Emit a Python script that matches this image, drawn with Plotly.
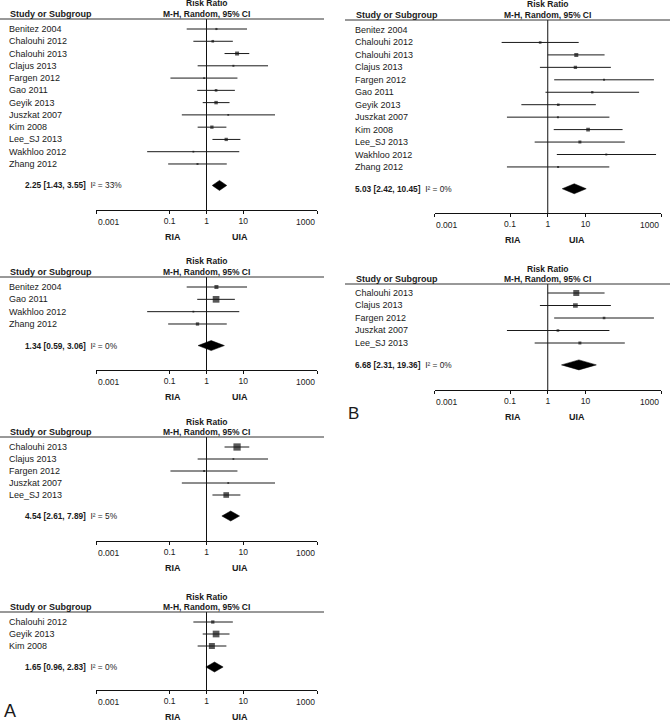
import numpy as np
import plotly.graph_objects as go

# ---------------- DATA ----------------
# Panel A studies (risk ratio, 95% CI lower, upper), UIA vs RIA
studies_A = ["Benitez 2004", "Chalouhi 2012", "Chalouhi 2013", "Clajus 2013", "Fargen 2012",
             "Gao 2011", "Geyik 2013", "Juszkat 2007", "Kim 2008", "Lee_SJ 2013",
             "Wakhloo 2012", "Zhang 2012"]
rr_A = [1.86, 1.48, 6.76, 5.37, 0.86, 1.82, 1.82, 3.89, 1.40, 3.43, 0.44, 0.57]
lo_A = [0.29, 0.44, 3.09, 0.575, 0.105, 0.56, 0.79, 0.214, 0.575, 1.45, 0.0245, 0.091]
hi_A = [12.6, 5.19, 14.5, 46.8, 6.92, 5.89, 4.22, 72.4, 3.47, 8.32, 7.76, 3.55]

# Panel B studies (Benitez 2004 not estimable)
studies_B = ["Benitez 2004", "Chalouhi 2012", "Chalouhi 2013", "Clajus 2013", "Fargen 2012",
             "Gao 2011", "Geyik 2013", "Juszkat 2007", "Kim 2008", "Lee_SJ 2013",
             "Wakhloo 2012", "Zhang 2012"]
rr_B = [None, 0.63, 5.7, 5.4, 31.0, 15.1, 1.9, 1.86, 11.7, 7.1, 35.5, 1.88]
lo_B = [None, 0.060, 1.0, 0.62, 1.48, 0.87, 0.20, 0.083, 1.44, 0.45, 1.74, 0.083]
hi_B = [None, 6.6, 32.0, 47.0, 650.0, 263.0, 18.8, 43.0, 96.0, 110.0, 740.0, 42.7]

# Subgroups: member studies, approximate weights (%), pooled RR [est, lo, hi], I²
a1_studies = studies_A
a1_weights = [4.5, 7, 16, 4, 3, 7, 12, 3, 11, 11, 3, 4]
a1_pooled = [2.25, 1.43, 3.55]
a1_i2 = "33%"

a2_studies = ["Benitez 2004", "Gao 2011", "Wakhloo 2012", "Zhang 2012"]
a2_weights = [16, 45, 3, 11]
a2_pooled = [1.34, 0.59, 3.06]
a2_i2 = "0%"

a3_studies = ["Chalouhi 2013", "Clajus 2013", "Fargen 2012", "Juszkat 2007", "Lee_SJ 2013"]
a3_weights = [53, 3, 3, 3, 32]
a3_pooled = [4.54, 2.61, 7.89]
a3_i2 = "5%"

a4_studies = ["Chalouhi 2012", "Geyik 2013", "Kim 2008"]
a4_weights = [11, 45, 36]
a4_pooled = [1.65, 0.96, 2.83]
a4_i2 = "0%"

b1_studies = studies_B
b1_weights = [0, 7, 16, 11, 4, 5.5, 7, 4, 13.5, 9, 4, 4]
b1_pooled = [5.03, 2.42, 10.45]
b1_i2 = "0%"

b2_studies = ["Chalouhi 2013", "Clajus 2013", "Fargen 2012", "Juszkat 2007", "Lee_SJ 2013"]
b2_weights = [36, 22, 7, 7, 9]
b2_pooled = [6.68, 2.31, 19.36]
b2_i2 = "0%"

tick_vals = [0.001, 0.1, 1, 10, 1000]
tick_text = ["0.001", "0.1", "1", "10", "1000"]

# ---------------- LAYOUT GEOMETRY (pixels) ----------------
W, H = 670, 720
FONT = "Arial, 'Liberation Sans', sans-serif"
TXT = "#1a1a1a"

panels = [
    dict(side="A", studies=a1_studies, weights=a1_weights, pooled=a1_pooled, i2=a1_i2,
         header=19, first=29, sp=12.27, axis=210),
    dict(side="A", studies=a2_studies, weights=a2_weights, pooled=a2_pooled, i2=a2_i2,
         header=277, first=287, sp=12.33, axis=370),
    dict(side="A", studies=a3_studies, weights=a3_weights, pooled=a3_pooled, i2=a3_i2,
         header=437, first=447, sp=12.0, axis=541),
    dict(side="A", studies=a4_studies, weights=a4_weights, pooled=a4_pooled, i2=a4_i2,
         header=612, first=622, sp=12.0, axis=690),
    dict(side="B", studies=b1_studies, weights=b1_weights, pooled=b1_pooled, i2=b1_i2,
         header=20, first=30, sp=12.45, axis=213),
    dict(side="B", studies=b2_studies, weights=b2_weights, pooled=b2_pooled, i2=b2_i2,
         header=284, first=293, sp=12.5, axis=390),
]

side_geo = {
    "A": dict(x0=96, x1=317, label_x=7, summ_x=23, line0=0, line1=324, ria=-0.9, uia=0.9),
    "B": dict(x0=434.5, x1=661, label_x=353, summ_x=353, line0=345, line1=670, ria=-0.93, uia=0.78),
}
SUMMARY_GAP = 1.75  # rows between last study and pooled diamond

lookup = {
    "A": {s: (r, l, h) for s, r, l, h in zip(studies_A, rr_A, lo_A, hi_A)},
    "B": {s: (r, l, h) for s, r, l, h in zip(studies_B, rr_B, lo_B, hi_B)},
}

fig = go.Figure()
annotations = []
shapes = []
layout_axes = {}

def py(px):
    return 1 - px / H

def pxx(px):
    return px / W

# inner tick labels drawn by the axis; the two end labels are drawn inward-aligned
inner_text = [t if 0 < i < len(tick_text) - 1 else "" for i, t in enumerate(tick_text)]

for k, p in enumerate(panels, start=1):
    g = side_geo[p["side"]]
    xa = "x" if k == 1 else f"x{k}"
    ya = "y" if k == 1 else f"y{k}"
    xkey = "xaxis" if k == 1 else f"xaxis{k}"
    ykey = "yaxis" if k == 1 else f"yaxis{k}"
    n = len(p["studies"])
    sp = p["sp"]
    y_top = (p["header"] - p["first"]) / sp
    y_sum = (n - 1) + SUMMARY_GAP
    y_bot = (p["axis"] - p["first"]) / sp

    layout_axes[xkey] = dict(
        type="log", range=[-3, 3], domain=[pxx(g["x0"]), pxx(g["x1"])], anchor=ya,
        tickvals=tick_vals, ticktext=inner_text, showline=True, linecolor="#111", linewidth=1,
        ticks="outside", ticklen=3, tickwidth=1, tickcolor="#111", showgrid=False,
        zeroline=False, fixedrange=True, automargin=False,
        tickfont=dict(family=FONT, size=8.5, color=TXT),
    )
    layout_axes[ykey] = dict(
        domain=[py(p["axis"]), py(p["header"])], range=[y_bot, y_top], visible=False,
        fixedrange=True, anchor=xa, automargin=False,
    )

    # end tick labels (aligned inward like the original)
    annotations.append(dict(text=tick_text[0], x=np.log10(tick_vals[0]), xref=xa,
                            y=py(p["axis"] + 11.5), yref="paper", xanchor="left", yanchor="middle",
                            showarrow=False, font=dict(family=FONT, size=8.5, color=TXT)))
    annotations.append(dict(text=tick_text[-1], x=np.log10(tick_vals[-1]), xref=xa,
                            y=py(p["axis"] + 11.5), yref="paper", xanchor="right", yanchor="middle",
                            showarrow=False, font=dict(family=FONT, size=8.5, color=TXT)))

    # line of no effect
    fig.add_trace(go.Scatter(x=[1, 1], y=[y_top, y_bot], mode="lines", xaxis=xa, yaxis=ya,
                             line=dict(color="#111", width=1), hoverinfo="skip"))

    # CI lines and boxes
    cx, cy, mx, my, ms = [], [], [], [], []
    for i, (s, w) in enumerate(zip(p["studies"], p["weights"])):
        r, l, h = lookup[p["side"]][s]
        if r is None:
            continue
        cx += [l, h, None]
        cy += [i, i, None]
        mx.append(r)
        my.append(i)
        ms.append(max(np.sqrt(w), 1.8))
    fig.add_trace(go.Scatter(x=cx, y=cy, mode="lines", xaxis=xa, yaxis=ya,
                             line=dict(color="#1a1a1a", width=1), hoverinfo="skip"))
    fig.add_trace(go.Scatter(x=mx, y=my, mode="markers", xaxis=xa, yaxis=ya,
                             marker=dict(symbol="square", size=ms, color="#111",
                                         line=dict(width=0)), hoverinfo="skip"))

    # pooled diamond
    est, plo, phi = p["pooled"]
    hh = 5.0 / sp
    fig.add_trace(go.Scatter(x=[plo, est, phi, est, plo], y=[y_sum, y_sum - hh, y_sum, y_sum + hh, y_sum],
                             mode="lines", fill="toself", fillcolor="#000", xaxis=xa, yaxis=ya,
                             line=dict(color="#000", width=0.5), hoverinfo="skip"))

    # study labels
    for i, s in enumerate(p["studies"]):
        annotations.append(dict(text=s, x=pxx(g["label_x"]), xref="paper", y=i, yref=ya,
                                xanchor="left", yanchor="middle", showarrow=False,
                                font=dict(family=FONT, size=9, color=TXT)))
    # pooled text
    annotations.append(dict(
        text=f"<b>{est:.2f} [{plo:.2f}, {phi:.2f}]</b>\u00a0 I² = {p['i2']}",
        x=pxx(g["summ_x"]), xref="paper", y=y_sum, yref=ya, xanchor="left", yanchor="middle",
        showarrow=False, font=dict(family=FONT, size=8.3, color=TXT)))

    # headers
    annotations.append(dict(text="<b>Study or Subgroup</b>", x=pxx(g["label_x"] + 1), xref="paper",
                            y=py(p["header"] - 5), yref="paper", xanchor="left", yanchor="middle",
                            showarrow=False, font=dict(family=FONT, size=9, color=TXT)))
    annotations.append(dict(text="<b>M-H, Random, 95% CI</b>", x=0, xref=xa,
                            y=py(p["header"] - 5), yref="paper", xanchor="center", yanchor="middle",
                            showarrow=False, font=dict(family=FONT, size=8.5, color=TXT)))
    annotations.append(dict(text="<b>Risk Ratio</b>", x=0, xref=xa,
                            y=py(p["header"] - 15.5), yref="paper", xanchor="center", yanchor="middle",
                            showarrow=False, font=dict(family=FONT, size=8.5, color=TXT)))
    # favours labels
    for lab, pos in (("RIA", g["ria"]), ("UIA", g["uia"])):
        annotations.append(dict(text=f"<b>{lab}</b>", x=pos, xref=xa, y=py(p["axis"] + 27),
                                yref="paper", xanchor="center", yanchor="middle", showarrow=False,
                                font=dict(family=FONT, size=9, color=TXT)))
    # header rule
    shapes.append(dict(type="line", xref="paper", yref="paper", x0=pxx(g["line0"]), x1=pxx(g["line1"]),
                       y0=py(p["header"]), y1=py(p["header"]), line=dict(color="#333", width=1)))

# panel letters
annotations.append(dict(text="A", x=pxx(2), xref="paper", y=py(711), yref="paper", xanchor="left",
                        yanchor="middle", showarrow=False, font=dict(family=FONT, size=18, color=TXT)))
annotations.append(dict(text="B", x=pxx(346), xref="paper", y=py(413), yref="paper", xanchor="left",
                        yanchor="middle", showarrow=False, font=dict(family=FONT, size=17, color=TXT)))

fig.update_layout(
    width=W, height=H, margin=dict(l=0, r=0, t=0, b=0, pad=0, autoexpand=False),
    paper_bgcolor="white", plot_bgcolor="white", showlegend=False, hovermode=False,
    annotations=annotations, shapes=shapes, **layout_axes,
)

fig.write_html(
    "out.html",
    config={"displayModeBar": False, "staticPlot": True},
    post_script="document.body.style.margin='0px'; document.body.style.overflow='hidden';",
)
